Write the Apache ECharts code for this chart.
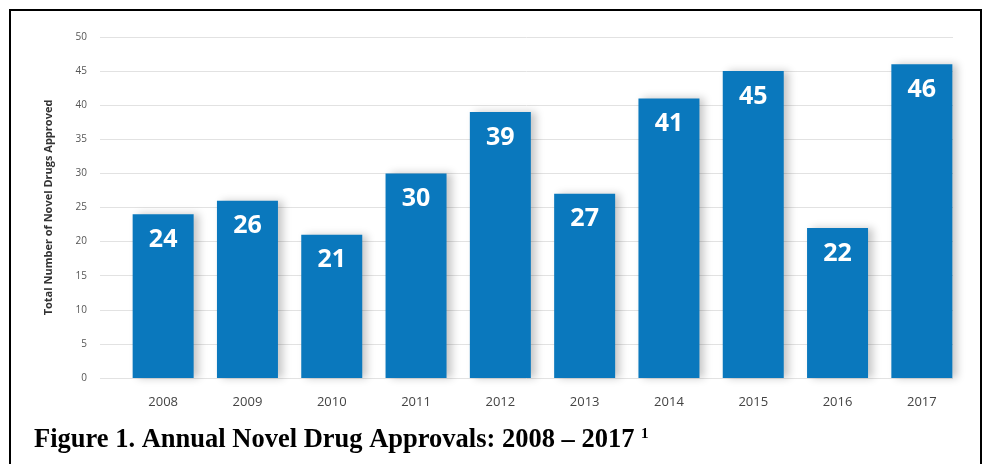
<!DOCTYPE html>
<html><head><meta charset="utf-8">
<script src="https://cdn.jsdelivr.net/npm/echarts@6/dist/echarts.min.js"></script>
<style>html,body{margin:0;padding:0;background:#fff}#c{width:987px;height:464px}</style>
</head><body><div id="c"></div>
<script>
const years = ['2008','2009','2010','2011','2012','2013','2014','2015','2016','2017'];
const approvals = [24, 26, 21, 30, 39, 27, 41, 45, 22, 46];
const yTicks = [0, 5, 10, 15, 20, 25, 30, 35, 40, 45, 50];
const yAxisTitle = 'Total Number of Novel Drugs Approved';
const caption = 'Figure 1. Annual Novel Drug Approvals: 2008 – 2017 ';
const captionSup = '1';

const chart = echarts.init(document.getElementById('c'));
const yMin = yTicks[0], yMax = yTicks[yTicks.length - 1];
chart.setOption({
  animation: false,
  grid: [
    {left: 100, right: 34, top: 37, bottom: 86},
    {left: 121, right: 23, top: 37, bottom: 86}
  ],
  xAxis: [
    {gridIndex: 0, type: 'category', data: years, show: false},
    {gridIndex: 1, type: 'category', data: years,
     axisLine: {show: false}, axisTick: {show: false},
     axisLabel: {color: '#444', fontSize: 13, fontFamily: 'Open Sans', margin: 18}}
  ],
  yAxis: [
    {gridIndex: 0, type: 'value', min: yMin, max: yMax, interval: 5,
     axisLine: {show: false}, axisTick: {show: false},
     axisLabel: {color: '#555', fontSize: 10, fontFamily: 'Open Sans', margin: 13},
     splitLine: {lineStyle: {color: '#e2e2e2', width: 1}},
     name: yAxisTitle, nameLocation: 'middle', nameGap: 46, nameRotate: 90,
     nameTextStyle: {color: '#333', fontSize: 11, fontWeight: 'bold', fontFamily: 'Open Sans'}},
    {gridIndex: 1, type: 'value', min: yMin, max: yMax, interval: 5, show: false,
     splitLine: {show: false}}
  ],
  series: [{
    type: 'bar', xAxisIndex: 1, yAxisIndex: 1, data: approvals,
    barWidth: 61,
    itemStyle: {color: '#0a78bd', shadowColor: 'rgba(0,0,0,0.22)', shadowBlur: 8, shadowOffsetX: 5, shadowOffsetY: 0},
    label: {show: true, position: 'insideTop', distance: 13, color: '#fff',
            fontSize: 25, fontWeight: 'bold', fontFamily: 'Open Sans'}
  }],
  graphic: [
    {type: 'rect', shape: {x: 10, y: 10, width: 971, height: 470},
     style: {fill: 'none', stroke: '#000', lineWidth: 2}},
    {type: 'text', left: 34, top: 427,
     style: {text: '{m|' + caption + '}{s|' + captionSup + '}',
       rich: {
         m: {fontFamily: 'Liberation Serif', fontWeight: 'bold', fontSize: 26.5, fill: '#000'},
         s: {fontFamily: 'Liberation Serif', fontWeight: 'bold', fontSize: 15, fill: '#000', verticalAlign: 'top', padding: [0,0,12,0]}
       }}}
  ]
});
</script></body></html>
